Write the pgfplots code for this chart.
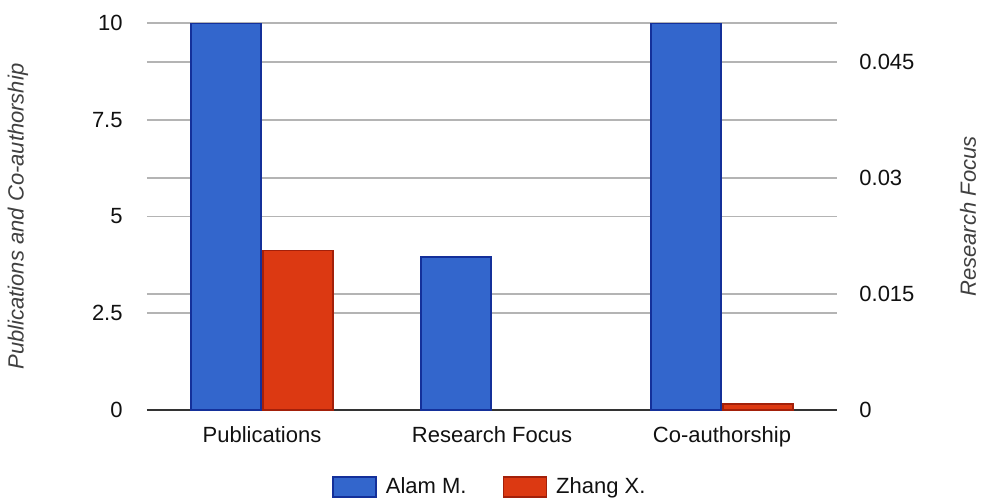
\documentclass[border=0pt]{standalone}
\usepackage{pgfplots}
\pgfplotsset{compat=1.18}
\usepackage{fontspec}
\setmainfont{Liberation Sans}

\definecolor{ablue}{HTML}{3366CC}
\definecolor{abluedk}{HTML}{14309A}
\definecolor{zred}{HTML}{DC3912}
\definecolor{zreddk}{HTML}{A3200A}
\definecolor{gridc}{HTML}{B4B4B4}
\definecolor{txt}{HTML}{111111}

\begin{document}
\begin{tikzpicture}
\pgfplotsset{
  base/.style={
    scale only axis, width=345pt, height=193.5pt,
    at={(0,0)}, anchor=south west,
    xmin=-0.5, xmax=2.5,
    ybar, bar width=35pt,
    major tick length=0pt,
    scaled y ticks=false,
    tick label style={font=\fontsize{11}{13}\selectfont, text=txt},
    label style={font=\fontsize{11}{13}\selectfont\itshape, text=black!75},
  },
  alam/.style={fill=ablue, draw=abluedk, line width=0.8pt, bar shift=-18pt,
    legend image code/.code={\draw[##1] (0pt,-5pt) rectangle (21.5pt,5pt);}},
  zhang/.style={fill=zred, draw=zreddk, line width=0.8pt, bar shift=18pt,
    legend image code/.code={\draw[##1] (0pt,-5pt) rectangle (21.5pt,5pt);}},
}

% left axis: publications and co-authorship
\begin{axis}[base,
  ymin=0, ymax=10,
  ytick={0,2.5,5,7.5,10}, yticklabels={0,2.5,5,7.5,10},
  extra y ticks={3,6,9},
  extra y tick style={grid=major, yticklabel={}},
  ymajorgrids,
  grid style={gridc, line width=0.8pt},
  xtick={0,1,2}, xticklabels={Publications,Research Focus,Co-authorship},
  axis x line*=bottom, axis y line*=left,
  y axis line style={draw=none},
  x axis line style={-, draw=black!80, line width=1pt},
  xticklabel style={inner sep=0pt, anchor=north, yshift=-8pt},
  yticklabel style={inner sep=0pt, anchor=east, xshift=-12pt},
  ylabel={Publications and Co-authorship},
  ylabel style={at={(axis description cs:-0.187,0.5)}, anchor=center},
  legend columns=2,
  legend cell align=left,
  legend style={at={(axis description cs:0.268,-0.163)}, anchor=north west,
    draw=none, inner sep=0pt, font=\fontsize{11}{13}\selectfont, text=txt,
    /tikz/every odd column/.append style={column sep=2.5pt},
    /tikz/every even column/.append style={column sep=16pt}},
]
\addplot[alam] coordinates {(0,10) (2,10)};
\addlegendentry{Alam M.}
\addplot[zhang] coordinates {(0,4.12) (2,0.15)};
\addlegendentry{Zhang X.}
\end{axis}

% right axis: research focus
\begin{axis}[base,
  ymin=0, ymax=0.05,
  ytick={0,0.015,0.03,0.045}, yticklabels={0,0.015,0.03,0.045},
  axis y line*=right, axis x line=none,
  y axis line style={draw=none},
  yticklabel style={inner sep=0pt, anchor=west, xshift=11pt},
  ylabel={Research Focus},
  ylabel style={at={(axis description cs:1.19,0.5)}, anchor=center},
  xtick=\empty,
]
\addplot[alam] coordinates {(1,0.0198)};
\end{axis}

\pgfresetboundingbox
\useasboundingbox (-73.5pt,-44.5pt) rectangle (418.5pt,205pt);
\end{tikzpicture}
\end{document}
